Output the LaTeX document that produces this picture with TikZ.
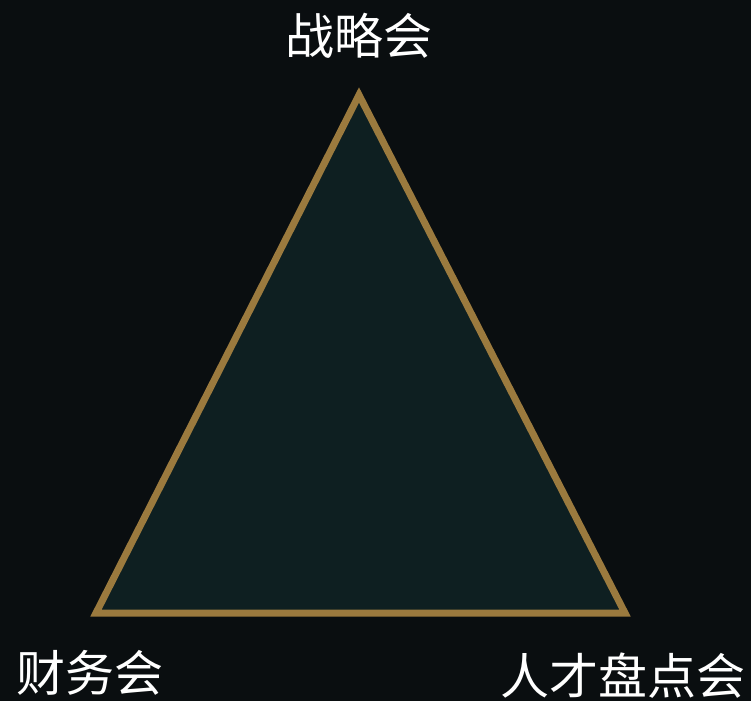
\documentclass[tikz,border=0pt]{standalone}
\usepackage{fontspec}
\newfontfamily\cjk{Noto Sans CJK SC}
\definecolor{bg}{HTML}{0A0E10}
\definecolor{tri}{HTML}{0E1F21}
\definecolor{gold}{HTML}{9B7A3E}
\begin{document}
\begin{tikzpicture}[x=1pt,y=-1pt,
  lbl/.style={text=white,font=\cjk\fontsize{49}{49}\selectfont,inner sep=0pt,anchor=center}]
\fill[bg] (0,0) rectangle (751,701);
\useasboundingbox (0,0) rectangle (751,701);
\coordinate (A) at (359,95);
\coordinate (B) at (96,613);
\coordinate (C) at (625,613);
\draw[gold,fill=tri,line width=7pt,line join=miter] (A) -- (B) -- (C) -- cycle;
\node[lbl] (top) at (359,36) {战略会};
\node[lbl] (left) at (90,673) {财务会};
\node[lbl] (right) at (623,676) {人才盘点会};
\end{tikzpicture}
\end{document}
